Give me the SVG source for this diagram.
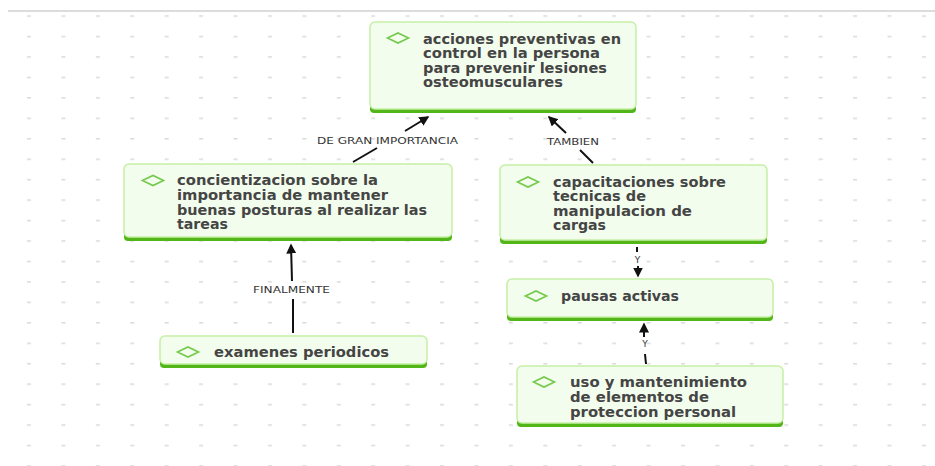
<svg xmlns="http://www.w3.org/2000/svg" width="935" height="466" viewBox="0 0 935 466">
<defs>
<pattern id="grid" x="27" y="15.3" width="34.42" height="20.45" patternUnits="userSpaceOnUse">
<rect x="0" y="0" width="4" height="1.5" fill="#dadada"/>
</pattern>
<marker id="arr" markerUnits="userSpaceOnUse" markerWidth="11" markerHeight="11" refX="8.5" refY="5" orient="auto">
<path d="M0,0 L10,5 L0,10 z" fill="#111"/>
</marker>
<style>
.bar{fill:#52b618}
.box{fill:#f3fded;stroke:#c6f0a6;stroke-width:1.5}
.dia{fill:none;stroke:#74c94c;stroke-width:1.6}
.t{font-family:"DejaVu Sans","Liberation Sans",sans-serif;font-weight:bold;font-size:14.5px;fill:#454545}
.l{font-family:"DejaVu Sans","Liberation Sans",sans-serif;font-size:9px;fill:#333;text-anchor:middle}
.c{stroke:#111;stroke-width:2;fill:none}
</style>
</defs>
<rect width="935" height="466" fill="#fff"/>
<rect x="0" y="14" width="935" height="452" fill="url(#grid)"/>
<rect x="8" y="10" width="927" height="2" fill="#dcdcdc"/>

<g id="connectors">
<line class="c" x1="353" y1="162" x2="377" y2="148"/>
<line class="c" x1="405" y1="131" x2="428" y2="117" marker-end="url(#arr)"/>
<text class="l" x="387.5" y="144" textLength="141" lengthAdjust="spacingAndGlyphs">DE GRAN IMPORTANCIA</text>
<line class="c" x1="593" y1="163" x2="580" y2="150"/>
<line class="c" x1="566" y1="133" x2="549" y2="117" marker-end="url(#arr)"/>
<text class="l" x="573" y="145.3" textLength="52" lengthAdjust="spacingAndGlyphs">TAMBIEN</text>
<line class="c" x1="293" y1="333" x2="293" y2="299"/>
<line class="c" x1="292" y1="281" x2="291" y2="245" marker-end="url(#arr)"/>
<text class="l" x="291.5" y="293.3" textLength="77" lengthAdjust="spacingAndGlyphs">FINALMENTE</text>
<line class="c" x1="637" y1="247" x2="637" y2="252"/>
<line class="c" x1="638" y1="266" x2="638" y2="276" marker-end="url(#arr)"/>
<text class="l" x="637.5" y="262.5">Y</text>
<line class="c" x1="646" y1="364" x2="645" y2="354"/>
<line class="c" x1="644" y1="337" x2="644" y2="324" marker-end="url(#arr)"/>
<text class="l" x="645" y="346.5">Y</text>
</g>

<g id="n-acciones">
<rect class="bar" x="370" y="104" width="266" height="9" rx="4"/>
<rect class="box" x="370" y="22" width="266" height="87" rx="5"/>
<path class="dia" d="M387.5,38 L398,33 L408.5,38 L398,43 Z"/>
<text class="t" x="423" y="44" textLength="198" lengthAdjust="spacingAndGlyphs">acciones preventivas en</text>
<text class="t" x="423" y="58.3" textLength="177" lengthAdjust="spacingAndGlyphs">control en la persona</text>
<text class="t" x="423" y="72.6" textLength="184" lengthAdjust="spacingAndGlyphs">para prevenir lesiones</text>
<text class="t" x="423" y="86.9" textLength="140" lengthAdjust="spacingAndGlyphs">osteomusculares</text>
</g>

<g id="n-concientizacion">
<rect class="bar" x="124" y="232" width="328" height="9" rx="4"/>
<rect class="box" x="124" y="164" width="328" height="73" rx="5"/>
<path class="dia" d="M142.5,180.5 L153,175.5 L163.5,180.5 L153,185.5 Z"/>
<text class="t" x="177" y="185.2" textLength="201" lengthAdjust="spacingAndGlyphs">concientizacion sobre la</text>
<text class="t" x="177" y="199.9" textLength="211" lengthAdjust="spacingAndGlyphs">importancia de mantener</text>
<text class="t" x="177" y="214.6" textLength="250" lengthAdjust="spacingAndGlyphs">buenas posturas al realizar las</text>
<text class="t" x="177" y="229.3" textLength="51" lengthAdjust="spacingAndGlyphs">tareas</text>
</g>

<g id="n-capacitaciones">
<rect class="bar" x="500" y="235" width="267" height="9" rx="4"/>
<rect class="box" x="500" y="165" width="267" height="75" rx="5"/>
<path class="dia" d="M517.5,182 L528,177 L538.5,182 L528,187 Z"/>
<text class="t" x="553" y="186.5" textLength="173" lengthAdjust="spacingAndGlyphs">capacitaciones sobre</text>
<text class="t" x="553" y="201" textLength="93" lengthAdjust="spacingAndGlyphs">tecnicas de</text>
<text class="t" x="553" y="215.5" textLength="139" lengthAdjust="spacingAndGlyphs">manipulacion de</text>
<text class="t" x="553" y="230" textLength="53" lengthAdjust="spacingAndGlyphs">cargas</text>
</g>

<g id="n-examenes">
<rect class="bar" x="160" y="359" width="267" height="9" rx="4"/>
<rect class="box" x="160" y="336" width="267" height="28" rx="5"/>
<path class="dia" d="M177.5,352 L188,347 L198.5,352 L188,357 Z"/>
<text class="t" x="214" y="356.5" textLength="175" lengthAdjust="spacingAndGlyphs">examenes periodicos</text>
</g>

<g id="n-pausas">
<rect class="bar" x="507" y="312" width="266" height="9" rx="4"/>
<rect class="box" x="507" y="279" width="266" height="38" rx="5"/>
<path class="dia" d="M525.5,296 L536,291 L546.5,296 L536,301 Z"/>
<text class="t" x="561" y="300.5" textLength="118" lengthAdjust="spacingAndGlyphs">pausas activas</text>
</g>

<g id="n-uso">
<rect class="bar" x="517" y="418" width="266" height="9" rx="4"/>
<rect class="box" x="517" y="366" width="266" height="57" rx="5"/>
<path class="dia" d="M533.5,382 L544,377 L554.5,382 L544,387 Z"/>
<text class="t" x="570" y="386.5" textLength="177" lengthAdjust="spacingAndGlyphs">uso y mantenimiento</text>
<text class="t" x="570" y="401.5" textLength="139" lengthAdjust="spacingAndGlyphs">de elementos de</text>
<text class="t" x="570" y="416.5" textLength="166" lengthAdjust="spacingAndGlyphs">proteccion personal</text>
</g>
</svg>
